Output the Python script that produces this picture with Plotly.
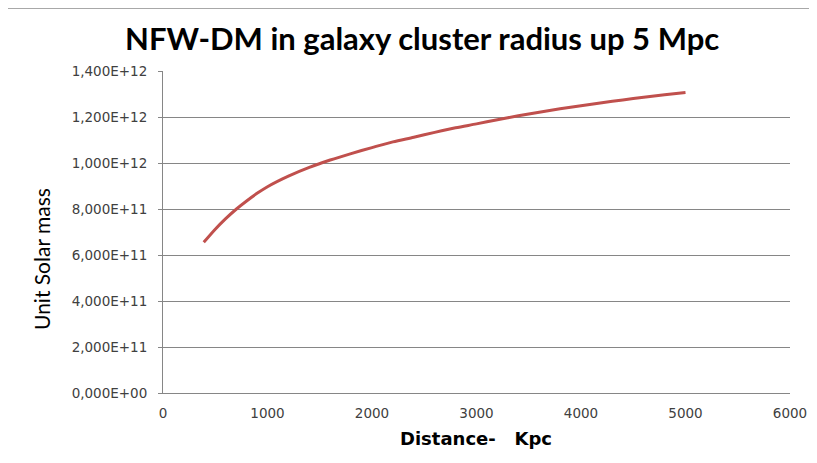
import plotly.graph_objects as go

# ---------------------------------------------------------------------
# Data (distance in Kpc, mass in solar masses)
# ---------------------------------------------------------------------
distance_kpc = [390, 500, 600, 700, 800, 900, 1000, 1200, 1400, 1600, 1800,
                2000, 2200, 2400, 2600, 2800, 3000, 3200, 3400, 3600, 3800,
                4000, 4200, 4400, 4600, 4800, 5000]
mass_e11 = [6.55, 7.12, 7.58, 7.99, 8.35, 8.68, 8.97, 9.43, 9.81, 10.13, 10.41,
            10.67, 10.92, 11.12, 11.33, 11.53, 11.70, 11.88, 12.05, 12.21, 12.36,
            12.49, 12.62, 12.74, 12.86, 12.97, 13.07]
mass = [m * 1e11 for m in mass_e11]

y_ticks = [0, 2e11, 4e11, 6e11, 8e11, 1e12, 1.2e12, 1.4e12]
y_labels = ["0,000E+00", "2,000E+11", "4,000E+11", "6,000E+11",
            "8,000E+11", "1,000E+12", "1,200E+12", "1,400E+12"]
x_ticks = [0, 1000, 2000, 3000, 4000, 5000, 6000]

GRID = "#868686"
TEXT = "#404040"

fig = go.Figure()
fig.add_trace(go.Scatter(x=distance_kpc, y=mass, mode="lines",
                         line=dict(color="#C0504D", width=3, shape="spline", smoothing=0.8),
                         showlegend=False))

fig.update_xaxes(range=[0, 6000], tickvals=x_ticks, showgrid=False, zeroline=False,
                 showline=True, linecolor=GRID, linewidth=1, ticks="",
                 ticklabelstandoff=8,
                 tickfont=dict(family="DejaVu Sans", size=13.5, color=TEXT))
fig.update_yaxes(range=[0, 1.4e12], tickvals=y_ticks, ticktext=y_labels,
                 showgrid=True, gridcolor=GRID, gridwidth=1, zeroline=False,
                 showline=True, linecolor=GRID, linewidth=1,
                 ticks="outside", ticklen=4, tickcolor=GRID,
                 ticklabelstandoff=8,
                 tickfont=dict(family="DejaVu Sans", size=13.5, color=TEXT))

# page body adds an 8px offset, margins compensate so the plot sits at 163..790 x 71..393
fig.update_layout(
    width=817, height=463,
    margin=dict(l=155, r=35, t=63, b=78),
    paper_bgcolor="white", plot_bgcolor="white",
    shapes=[dict(type="rect", xref="paper", yref="paper",
                 x0=-0.2504, x1=1.5, y0=-0.6, y1=1.1957,
                 line=dict(color="#8c8c8c", width=1.5), layer="below")],
    annotations=[
        dict(text="<b>NFW-DM in galaxy cluster radius up 5 Mpc</b>", xref="paper", yref="paper",
             x=0.413, y=1.0 + (71 - 38) / 322, xanchor="center", yanchor="middle",
             showarrow=False, font=dict(family="Lato", size=31, color="black")),
        dict(text="<b>Distance-   Kpc</b>", xref="paper", yref="paper",
             x=(476 - 163) / 627, y=-(438 - 393) / 322, xanchor="center", yanchor="middle",
             showarrow=False, font=dict(family="DejaVu Sans", size=18, color="black")),
        dict(text="Unit Solar mass", xref="paper", yref="paper", textangle=-90,
             x=(41 - 163) / 627, y=1 - (259 - 71) / 322, xanchor="center", yanchor="middle",
             showarrow=False, font=dict(family="Lato", size=21, color="black")),
    ],
)

fig.write_html("out.html")
